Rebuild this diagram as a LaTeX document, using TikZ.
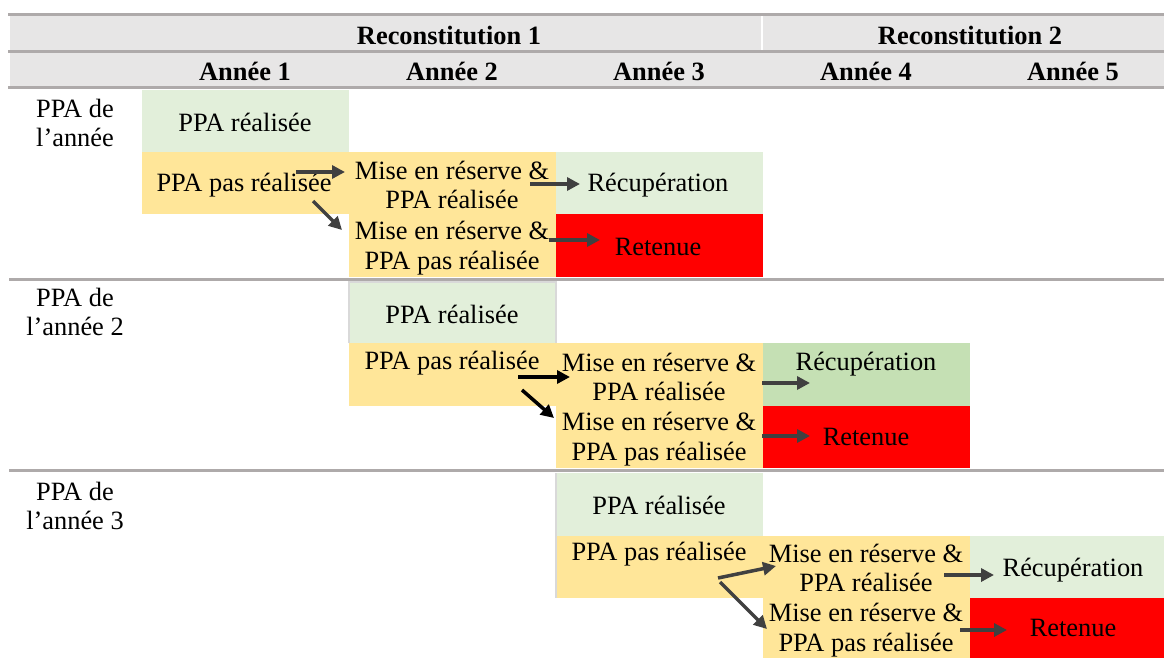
\documentclass[tikz,border=0pt]{standalone}
\usepackage{fontspec}
\setmainfont{Liberation Serif}
\usetikzlibrary{arrows.meta}
\definecolor{hdrgray}{HTML}{E7E6E6}
\definecolor{rulegray}{HTML}{AEAAAA}
\definecolor{edgegray}{HTML}{D9D9D9}
\definecolor{paleGreen}{HTML}{E2EFDA}
\definecolor{midGreen}{HTML}{C5E0B4}
\definecolor{paleYellow}{HTML}{FFE699}
\definecolor{alertRed}{HTML}{FF0000}
\definecolor{arrowgray}{HTML}{404040}
\begin{document}
\begin{tikzpicture}[x=1pt,y=-1pt,
  cell/.style={anchor=north west, inner sep=0pt, outer sep=0pt, draw=none},
  txt/.style={inner sep=0pt, align=center, font=\fontsize{26.4}{29.5}\selectfont},
  hdr/.style={txt, font=\fontsize{26.4}{29.5}\selectfont\bfseries},
  rule/.style={rulegray, line width=3pt},
  flow/.style={arrowgray, line width=3.5pt, -{Triangle[length=13pt,width=13pt]}},
  flowblack/.style={flow, black}]
\useasboundingbox (0,0) rectangle (1164,658);

% header band
\node[cell, fill=hdrgray, minimum width=1154, minimum height=73] (band) at (10,15) {};
\coordinate (hl1) at (8,15);   \coordinate (hr1) at (1164,15);
\coordinate (hl2) at (8,51.5); \coordinate (hr2) at (1164,51.5);
\coordinate (hl3) at (8,88);   \coordinate (hr3) at (1164,88);
\draw[rule] (hl1) -- (hr1);
\draw[rule] (hl2) -- (hr2);
\draw[rule] (hl3) -- (hr3);
\coordinate (vs1) at (762,16.5); \coordinate (vs2) at (762,50);
\draw[white, line width=2.5pt] (vs1) -- (vs2);
\node[hdr] (rec1) at (449,36) {Reconstitution 1};
\node[hdr] (rec2) at (970,36) {Reconstitution 2};
\node[hdr] (y1) at (245,71) {Année 1};
\node[hdr] (y2) at (452,71) {Année 2};
\node[hdr] (y3) at (659,71) {Année 3};
\node[hdr] (y4) at (866,71) {Année 4};
\node[hdr] (y5) at (1073,71) {Année 5};

% section separators
\coordinate (sl1) at (9,279); \coordinate (sr1) at (1164,279);
\coordinate (sl2) at (9,470.5); \coordinate (sr2) at (1164,470.5);
\draw[rule] (sl1) -- (sr1);
\draw[rule] (sl2) -- (sr2);

% ---------- section 1 ----------
\node[cell, fill=paleGreen,  minimum width=207, minimum height=62] (s1g)   at (142,90) {};
\node[cell, fill=paleYellow, minimum width=207, minimum height=62] (s1y)   at (142,152) {};
\node[cell, fill=paleYellow, minimum width=207, minimum height=62] (s1m1)  at (349,152) {};
\node[cell, fill=paleGreen,  minimum width=207, minimum height=62] (s1rec) at (556,152) {};
\node[cell, fill=paleYellow, minimum width=207, minimum height=63] (s1m2)  at (349,214) {};
\node[cell, fill=alertRed,   minimum width=207, minimum height=63] (s1ret) at (556,214) {};

\node[txt] (l1)   at (75,123)    {PPA de\\l’année};
\node[txt] (t1a)  at (245,122)   {PPA réalisée};
\node[txt] (t1b)  at (244,185)   {PPA pas réalisée};
\node[txt] (t1c)  at (452,185)   {Mise en réserve \&\\PPA réalisée};
\node[txt] (t1d)  at (658,185)   {Récupération};
\node[txt] (t1e)  at (452,248)   {Mise en réserve \&\\PPA pas réalisée};
\node[txt] (t1f)  at (658,247)   {Retenue};

\coordinate (a1s) at (296,172); \coordinate (a1e) at (345,172);
\coordinate (a2s) at (313,201); \coordinate (a2e) at (342,230);
\coordinate (a3s) at (530,184); \coordinate (a3e) at (580,184);
\coordinate (a4s) at (549,240); \coordinate (a4e) at (600,240);
\draw[flow] (a1s) -- (a1e);
\draw[flow] (a2s) -- (a2e);
\draw[flow] (a3s) -- (a3e);
\draw[flow] (a4s) -- (a4e);

% ---------- section 2 ----------
\node[cell, fill=paleGreen,  minimum width=207, minimum height=61] (s2g)   at (349,282) {};
\node[cell, fill=paleYellow, minimum width=207, minimum height=63] (s2y)   at (349,343) {};
\node[cell, fill=paleYellow, minimum width=207, minimum height=63] (s2m1)  at (556,343) {};
\node[cell, fill=midGreen,   minimum width=207, minimum height=63] (s2rec) at (763,343) {};
\node[cell, fill=paleYellow, minimum width=207, minimum height=62] (s2m2)  at (556,406) {};
\node[cell, fill=alertRed,   minimum width=207, minimum height=62] (s2ret) at (763,406) {};
\draw[edgegray, line width=1.5pt] (s2g.south west) -- (s2g.north west) -- (s2g.north east) -- (s2g.south east);

\node[txt] (l2)   at (75,312)    {PPA de\\l’année 2};
\node[txt] (t2a)  at (452,314)   {PPA réalisée};
\node[txt] (t2b)  at (452,363)   {PPA pas réalisée};
\node[txt] (t2c)  at (659,377)   {Mise en réserve \&\\PPA réalisée};
\node[txt] (t2d)  at (866,364)   {Récupération};
\node[txt] (t2e)  at (659,439)   {Mise en réserve \&\\PPA pas réalisée};
\node[txt] (t2f)  at (866,437)   {Retenue};

\coordinate (b1s) at (518,377); \coordinate (b1e) at (570,377);
\coordinate (b2s) at (522,390); \coordinate (b2e) at (554,418);
\coordinate (b3s) at (762,383); \coordinate (b3e) at (810,383);
\coordinate (b4s) at (762,436); \coordinate (b4e) at (810,436);
\draw[flowblack] (b1s) -- (b1e);
\draw[flowblack] (b2s) -- (b2e);
\draw[flow] (b3s) -- (b3e);
\draw[flow] (b4s) -- (b4e);

% ---------- section 3 ----------
\node[cell, fill=paleGreen,  minimum width=207, minimum height=63] (s3g)   at (556,473) {};
\node[cell, fill=paleYellow, minimum width=207, minimum height=62] (s3y)   at (556,536) {};
\node[cell, fill=paleYellow, minimum width=207, minimum height=62] (s3m1)  at (763,536) {};
\node[cell, fill=paleGreen,  minimum width=194, minimum height=62] (s3rec) at (970,536) {};
\node[cell, fill=paleYellow, minimum width=207, minimum height=60] (s3m2)  at (763,598) {};
\node[cell, fill=alertRed,   minimum width=194, minimum height=60] (s3ret) at (970,598) {};
\draw[edgegray, line width=2pt] (s3g.north west) -- (s3y.south west);

\node[txt] (l3)   at (75,506)    {PPA de\\l’année 3};
\node[txt] (t3a)  at (659,505)   {PPA réalisée};
\node[txt] (t3b)  at (659,554)   {PPA pas réalisée};
\node[txt] (t3c)  at (866,568)   {Mise en réserve \&\\PPA réalisée};
\node[txt] (t3d)  at (1073,570)  {Récupération};
\node[txt] (t3e)  at (866,630)   {Mise en réserve \&\\PPA pas réalisée};
\node[txt] (t3f)  at (1073,628)  {Retenue};

\coordinate (c1s) at (718,578); \coordinate (c1e) at (776,566);
\coordinate (c2s) at (720,582); \coordinate (c2e) at (767,629);
\coordinate (c3s) at (944,575); \coordinate (c3e) at (994,575);
\coordinate (c4s) at (960,630); \coordinate (c4e) at (1007,630);
\draw[flow] (c1s) -- (c1e);
\draw[flow] (c2s) -- (c2e);
\draw[flow] (c3s) -- (c3e);
\draw[flow] (c4s) -- (c4e);
\end{tikzpicture}
\end{document}
